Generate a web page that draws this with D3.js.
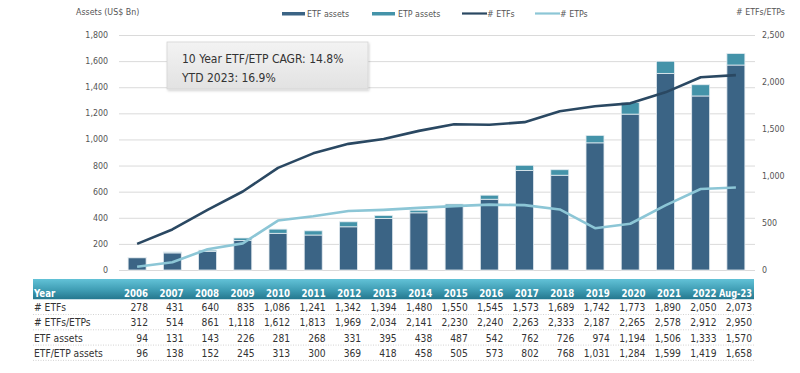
<!DOCTYPE html>
<html>
<head>
<meta charset="utf-8">
<script src="https://cdn.jsdelivr.net/npm/d3@7"></script>
<style>
  html, body { margin: 0; padding: 0; background: #fff; }
  svg { display: block; }
  text { font-family: "DejaVu Sans Condensed", "Liberation Sans", sans-serif; }
</style>
</head>
<body>
<svg id="chart" width="800" height="373"></svg>
<script>
// ---- Data ----
const years = ["2006","2007","2008","2009","2010","2011","2012","2013","2014","2015","2016","2017","2018","2019","2020","2021","2022","Aug-23"];
const etfCount = [278,431,640,835,1086,1241,1342,1394,1480,1550,1545,1573,1689,1742,1773,1890,2050,2073];
const etfEtpCount = [312,514,861,1118,1612,1813,1969,2034,2141,2230,2240,2263,2333,2187,2265,2578,2912,2950];
const etfAssets = [94,131,143,226,281,268,331,395,438,487,542,762,726,974,1194,1506,1333,1570];
const etfEtpAssets = [96,138,152,245,313,300,369,418,458,505,573,802,768,1031,1284,1599,1419,1658];
const leftTicks = [0,200,400,600,800,1000,1200,1400,1600,1800];
const rightTicks = [0,500,1000,1500,2000,2500];
const rowLabels = ["# ETFs","# ETFs/ETPs","ETF assets","ETF/ETP assets"];
const annotation = ["10 Year ETF/ETP CAGR: 14.8%","YTD 2023: 16.9%"];

// derived series
const etpCount = etfCount.map((v,i) => etfEtpCount[i] - v);

const C = { etf: "#3b6485", etp: "#4493a9", lineEtf: "#2a4862", lineEtp: "#8cc6d6", grid: "#dadada", axis: "#555", text: "#333" };

const svg = d3.select("#chart");
const defs = svg.append("defs");

const x = d3.scaleBand().domain(years).range([119.5, 753.5]).paddingInner(0.49).paddingOuter(0.245);
const yL = d3.scaleLinear().domain([0,1800]).range([270,35]);
const yR = d3.scaleLinear().domain([0,2500]).range([270,35]);

// gridlines
svg.append("g").selectAll("line").data(leftTicks).join("line")
  .attr("x1", 119).attr("x2", 755)
  .attr("y1", d => yL(d) + 0.5).attr("y2", d => yL(d) + 0.5)
  .attr("stroke", C.grid).attr("stroke-width", 1);

// left axis labels
svg.append("g").selectAll("text").data(leftTicks).join("text")
  .attr("x", 108).attr("y", d => yL(d) + 3)
  .attr("text-anchor", "end").attr("font-size", 8.8).attr("fill", C.axis)
  .text(d => d3.format(",")(d));

// right axis labels
svg.append("g").selectAll("text").data(rightTicks).join("text")
  .attr("x", 762).attr("y", d => yR(d) + 3)
  .attr("text-anchor", "start").attr("font-size", 8.8).attr("fill", C.axis)
  .text(d => d3.format(",")(d));

// axis titles
svg.append("text").attr("x", 76).attr("y", 15).attr("font-size", 8.8).attr("fill", C.axis).text("Assets (US$ Bn)");
svg.append("text").attr("x", 785).attr("y", 15).attr("text-anchor", "end").attr("font-size", 8.8).attr("fill", C.axis).text("# ETFs/ETPs");

// bars
const bars = svg.append("g");
bars.selectAll("rect.etf").data(years).join("rect").attr("class","etf")
  .attr("x", d => x(d)).attr("width", x.bandwidth())
  .attr("y", (d,i) => yL(etfAssets[i])).attr("height", (d,i) => yL(0) - yL(etfAssets[i]))
  .attr("fill", C.etf).attr("stroke", "#e3ebf0").attr("stroke-width", 0.8);
bars.selectAll("rect.etp").data(years).join("rect").attr("class","etp")
  .attr("x", d => x(d)).attr("width", x.bandwidth())
  .attr("y", (d,i) => yL(etfEtpAssets[i])).attr("height", (d,i) => yL(etfAssets[i]) - yL(etfEtpAssets[i]))
  .attr("fill", C.etp).attr("stroke", "#e3ebf0").attr("stroke-width", 0.8);

// lines
const cx = d => x(d) + x.bandwidth()/2;
const lineGen = arr => d3.line().x((d,i) => cx(years[i])).y(d => yR(d))(arr);
svg.append("path").attr("d", lineGen(etpCount)).attr("fill","none").attr("stroke", C.lineEtp).attr("stroke-width", 2.6).attr("stroke-linejoin","round");
svg.append("path").attr("d", lineGen(etfCount)).attr("fill","none").attr("stroke", C.lineEtf).attr("stroke-width", 2.6).attr("stroke-linejoin","round");

// legend
const legend = [
  {label:"ETF assets", type:"rect", color:C.etf, x:282, tx:307},
  {label:"ETP assets", type:"rect", color:C.etp, x:372, tx:398},
  {label:"# ETFs", type:"line", color:C.lineEtf, x:462, tx:487},
  {label:"# ETPs", type:"line", color:C.lineEtp, x:535, tx:560}
];
const lg = svg.append("g");
legend.forEach(l => {
  if (l.type === "rect") {
    lg.append("rect").attr("x", l.x).attr("y", 12).attr("width", 23).attr("height", 3.5).attr("fill", l.color);
  } else {
    lg.append("line").attr("x1", l.x).attr("x2", l.x + 25).attr("y1", 13.5).attr("y2", 13.5).attr("stroke", l.color).attr("stroke-width", 2.2);
  }
  lg.append("text").attr("x", l.tx).attr("y", 16.5).attr("font-size", 8.8).attr("fill", C.axis).text(l.label);
});

// annotation box
const ag = defs.append("linearGradient").attr("id","annGrad").attr("x1",0).attr("y1",0).attr("x2",0).attr("y2",1);
ag.append("stop").attr("offset","0%").attr("stop-color","#f3f3f3");
ag.append("stop").attr("offset","100%").attr("stop-color","#e2e2e2");
const sh = defs.append("filter").attr("id","shadow").attr("x","-10%").attr("y","-10%").attr("width","130%").attr("height","140%");
sh.append("feDropShadow").attr("dx",1).attr("dy",1.5).attr("stdDeviation",1.2).attr("flood-color","#000").attr("flood-opacity",0.18);
svg.append("rect").attr("x",167).attr("y",42).attr("width",201).attr("height",47)
  .attr("fill","url(#annGrad)").attr("stroke","#d4d4d4").attr("stroke-width",0.8).attr("filter","url(#shadow)");
svg.append("g").selectAll("text").data(annotation).join("text")
  .attr("x", 182).attr("y", (d,i) => 63 + i*19)
  .attr("font-size", 12).attr("fill", C.text).text(d => d);

// table
const col = d3.scalePoint().domain(years).range([148, 752]);
const hg = defs.append("linearGradient").attr("id","hdrGrad").attr("x1",0).attr("y1",0).attr("x2",0).attr("y2",1);
hg.append("stop").attr("offset","0%").attr("stop-color","#62c2d7");
hg.append("stop").attr("offset","55%").attr("stop-color","#3f9db4");
hg.append("stop").attr("offset","100%").attr("stop-color","#25788f");
svg.append("rect").attr("x",33).attr("y",279).attr("width",721).attr("height",20).attr("fill","url(#hdrGrad)");
svg.append("line").attr("x1",33).attr("x2",754).attr("y1",299.5).attr("y2",299.5).attr("stroke","#c9dfe6").attr("stroke-width",1);
svg.append("text").attr("x",34).attr("y",297).attr("font-size",9.6).attr("font-weight","bold").attr("fill","#fff").text("Year");
svg.append("g").selectAll("text").data(years).join("text")
  .attr("x", d => col(d)).attr("y", 297).attr("text-anchor","end")
  .attr("font-size", 9.6).attr("font-weight","bold").attr("fill","#fff")
  .attr("textLength", d => d.length > 4 ? 33 : null).attr("lengthAdjust","spacingAndGlyphs")
  .text(d => d);

const rows = [etfCount, etfEtpCount, etfAssets, etfEtpAssets];
rows.forEach((vals, r) => {
  const by = 311 + r * 15.3;
  svg.append("text").attr("x", 34).attr("y", by).attr("font-size", 10.2).attr("fill", C.text).text(rowLabels[r]);
  svg.append("g").selectAll("text").data(vals).join("text")
    .attr("x", (d,i) => col(years[i])).attr("y", by).attr("text-anchor","end")
    .attr("font-size", 10.2).attr("fill", C.text).text(d => d3.format(",")(d));
  svg.append("line").attr("x1",33).attr("x2",754).attr("y1", by + 3.5).attr("y2", by + 3.5)
    .attr("stroke","#c8c8c8").attr("stroke-width",0.8).attr("stroke-dasharray","1,1.5");
});
</script>
</body>
</html>
